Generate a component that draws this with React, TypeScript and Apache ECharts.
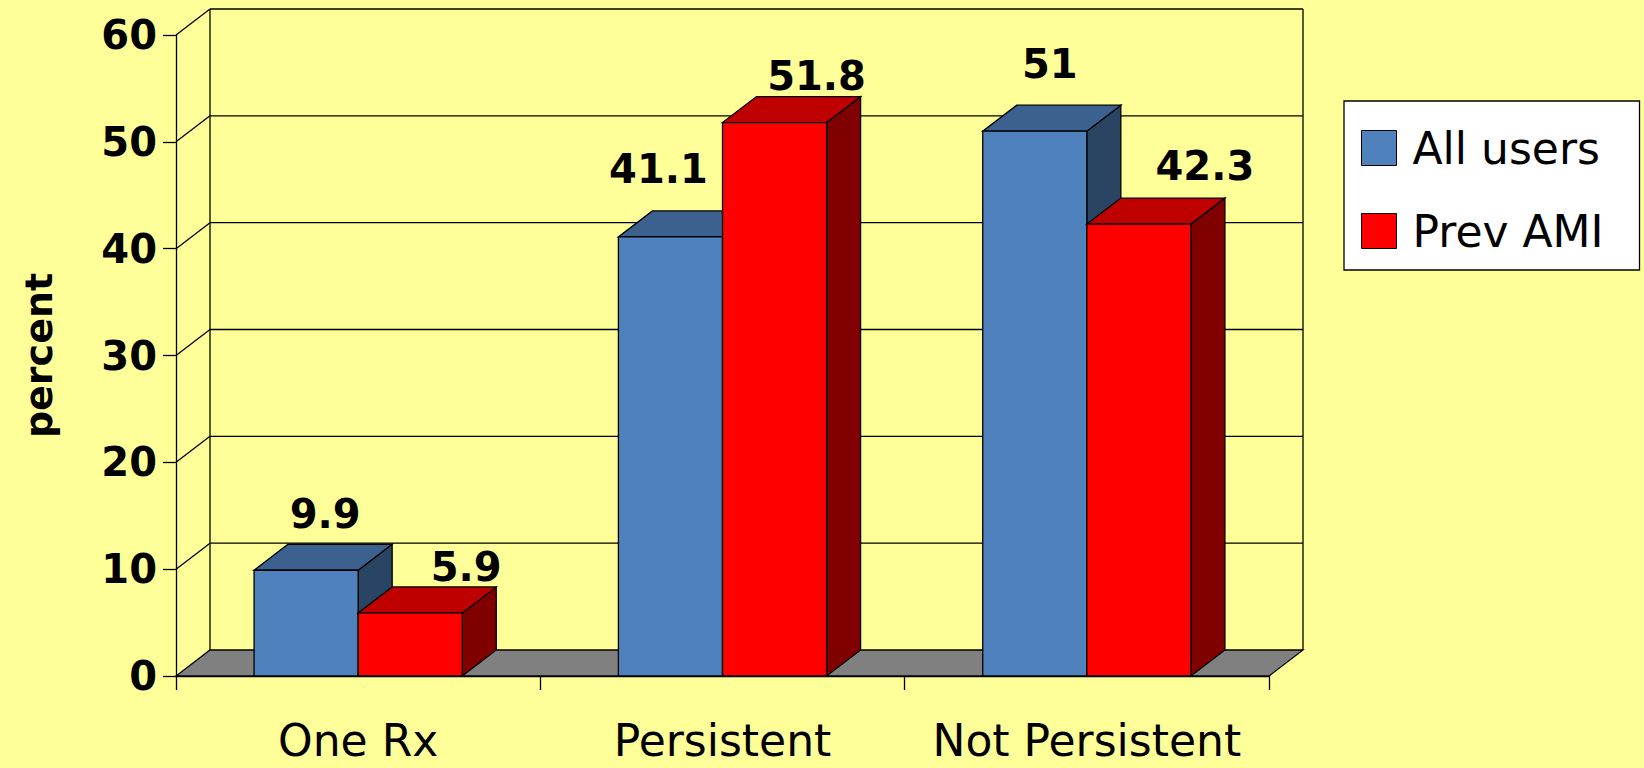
import React, { useEffect, useRef } from "react";
import * as echarts from "echarts";

const categories = ["One Rx", "Persistent", "Not Persistent"];
const allUsers = [9.9, 41.1, 51];
const prevAMI = [5.9, 51.8, 42.3];
const yTicks = [0, 10, 20, 30, 40, 50, 60];
const seriesNames = ["All users", "Prev AMI"];

const FONT = "DejaVu Sans";
const DX = 34;
const DY = 26;
// label nudges (px) relative to the centre of each bar's top face, per series / category
const labelNudge = [
  [[2, -43], [-29, -55], [-2, -54]],
  [[39, -33], [25, -34], [49, -45]],
];

const palettes = [
  { front: "#4F81BD", top: "#3C618E", side: "#2A4464" },
  { front: "#FF0000", top: "#BF0000", side: "#800000" },
];

function frameRender(params: any, api: any) {
  const cs = params.coordSys;
  const L = cs.x;
  const R = cs.x + cs.width;
  const T = cs.y;
  const B = cs.y + cs.height;
  const v = api.value(1);
  const y = api.coord([0, v])[1];
  const line = { stroke: "#000", lineWidth: 1.3 };
  const children: any[] = [];
  if (v === 0) {
    children.push({
      type: "polygon",
      shape: { points: [[L, B], [R, B], [R + DX, B - DY], [L + DX, B - DY]] },
      style: { fill: "#808080", stroke: "#000", lineWidth: 1.3 },
    });
    children.push({
      type: "line",
      shape: { x1: L + DX, y1: B - DY, x2: L + DX, y2: T - DY },
      style: line,
    });
    children.push({
      type: "line",
      shape: { x1: R + DX, y1: B - DY, x2: R + DX, y2: T - DY },
      style: line,
    });
  } else {
    children.push({
      type: "line",
      shape: { x1: L, y1: y, x2: L + DX, y2: y - DY },
      style: line,
    });
    children.push({
      type: "line",
      shape: { x1: L + DX, y1: y - DY, x2: R + DX, y2: y - DY },
      style: line,
    });
  }
  return { type: "group", children };
}

function makeBarRender(idx: number) {
  const pal = palettes[idx];
  return (params: any, api: any) => {
    const c = api.value(0);
    const v = api.value(1);
    const top = api.coord([c, v]);
    const base = api.coord([c, 0]);
    const band = api.size([1, 0])[0];
    const w = band / 3.5;
    const x0 = top[0] - w + idx * w;
    const x1 = x0 + w;
    const yT = top[1];
    const yB = base[1];
    const nudge = labelNudge[idx][params.dataIndex] || [0, -40];
    const stroke = { stroke: "#000", lineWidth: 1.3 };
    return {
      type: "group",
      children: [
        {
          type: "polygon",
          shape: { points: [[x1, yT], [x1 + DX, yT - DY], [x1 + DX, yB - DY], [x1, yB]] },
          style: { fill: pal.side, ...stroke },
        },
        {
          type: "polygon",
          shape: { points: [[x0, yT], [x1, yT], [x1 + DX, yT - DY], [x0 + DX, yT - DY]] },
          style: { fill: pal.top, ...stroke },
        },
        {
          type: "rect",
          shape: { x: x0, y: yT, width: w, height: yB - yT },
          style: { fill: pal.front, ...stroke },
        },
        {
          type: "text",
          z2: 100,
          style: {
            text: String(v),
            x: x0 + w / 2 + DX / 2 + nudge[0],
            y: yT - DY / 2 + nudge[1],
            align: "center",
            verticalAlign: "middle",
            fontSize: 40,
            fontWeight: "bold",
            fontFamily: FONT,
            fill: "#000",
          },
        },
      ],
    };
  };
}

export default function App() {
  const ref = useRef<HTMLDivElement>(null);
  useEffect(() => {
    document.body.style.margin = "0";
    const chart = echarts.init(ref.current!, undefined, { renderer: "svg" });
    const seriesData = [allUsers, prevAMI];
    chart.setOption({
      animation: false,
      backgroundColor: "#FFFF99",
      textStyle: { fontFamily: FONT },
      grid: { left: 176, top: 35, width: 1093, height: 641 },
      legend: {
        data: seriesNames,
        orient: "vertical",
        left: 1344,
        top: 101,
        selectedMode: false,
        icon: "rect",
        itemWidth: 35,
        itemHeight: 35,
        itemGap: 39,
        itemStyle: { borderColor: "#000", borderWidth: 1 },
        padding: [25, 36, 17, 17],
        backgroundColor: "#FFFFFF",
        borderColor: "#000",
        borderWidth: 1.3,
        borderRadius: 0,
        textStyle: {
          fontSize: 44,
          lineHeight: 44,
          color: "#000",
          fontFamily: FONT,
          padding: [0, 0, 0, 11],
        },
      },
      xAxis: {
        type: "category",
        data: categories,
        boundaryGap: true,
        axisLine: { show: true, lineStyle: { color: "#000", width: 1.3 } },
        axisTick: { show: true, length: 14, alignWithLabel: false, lineStyle: { color: "#000", width: 1.3 } },
        axisLabel: {
          interval: 0,
          hideOverlap: false,
          fontSize: 44,
          lineHeight: 44,
          margin: 42,
          color: "#000",
          fontFamily: FONT,
        },
        splitLine: { show: false },
      },
      yAxis: {
        type: "value",
        min: 0,
        max: 60,
        interval: 10,
        name: "percent",
        nameLocation: "middle",
        nameRotate: 90,
        nameGap: 118,
        nameTextStyle: { fontSize: 38, fontWeight: "bold", color: "#000", fontFamily: FONT },
        axisLine: { show: true, lineStyle: { color: "#000", width: 1.3 } },
        axisTick: { show: true, length: 13, lineStyle: { color: "#000", width: 1.3 } },
        axisLabel: { fontSize: 40, fontWeight: "bold", margin: 19, color: "#000", fontFamily: FONT },
        splitLine: { show: false },
      },
      series: [
        {
          type: "custom",
          name: "frame",
          z: 1,
          renderItem: frameRender,
          encode: { x: 0, y: 1 },
          data: yTicks.map((t) => [0, t]),
          silent: true,
        },
        ...seriesNames.map((name, i) => ({
          type: "custom",
          name,
          z: 2,
          renderItem: makeBarRender(i),
          encode: { x: 0, y: 1 },
          itemStyle: { color: palettes[i].front, borderColor: "#000", borderWidth: 1 },
          data: seriesData[i].map((v, c) => [c, v]),
        })),
      ],
    });
    return () => chart.dispose();
  }, []);
  return (
    <div
      ref={ref}
      style={{ position: "fixed", left: 0, top: 0, width: 1644, height: 768 }}
    />
  );
}
